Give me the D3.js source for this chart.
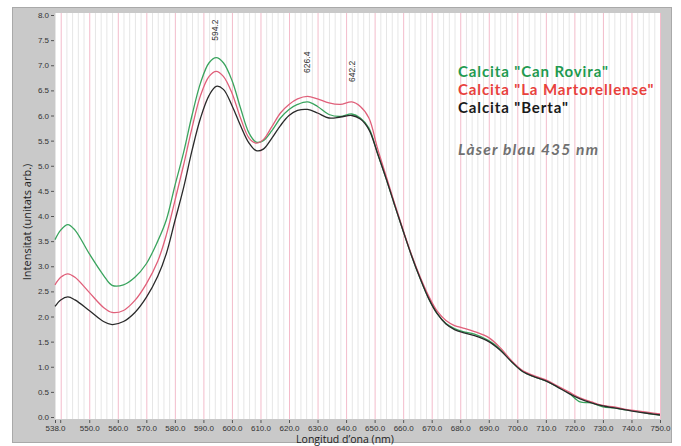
<!DOCTYPE html>
<html><head><meta charset="utf-8">
<script src="https://cdn.jsdelivr.net/npm/d3@7"></script>
<style>html,body{margin:0;padding:0;background:#fff;}svg{display:block;}</style>
</head><body>
<svg id="c" width="681" height="446"></svg>
<script>
const wavelengths = [538,540,542.5,545,550,555,558,562,566,570,574,577,580,583,586,589,592,594.5,597,600,603,606,608.5,611,614,617,620,623,626.5,630,634,638,642,645,648,651,654,657,660,663,666,669,672,675,678,681,685,690,694,698,702,706,710,714,718,722,726,730,734,738,742,746,750];
const canRovira = [3.53,3.72,3.83,3.72,3.25,2.82,2.62,2.63,2.78,3.05,3.5,3.92,4.6,5.25,6.0,6.65,7.05,7.15,7.05,6.7,6.15,5.65,5.47,5.5,5.7,5.95,6.12,6.22,6.27,6.18,6.02,5.98,6.03,5.95,5.75,5.25,4.75,4.22,3.7,3.2,2.75,2.35,2.05,1.86,1.76,1.7,1.65,1.52,1.35,1.1,0.9,0.8,0.72,0.6,0.48,0.3,0.28,0.2,0.18,0.14,0.11,0.07,0.04];
const laMartorellense = [2.63,2.78,2.85,2.78,2.48,2.18,2.08,2.12,2.32,2.65,3.1,3.62,4.3,5.0,5.75,6.4,6.78,6.88,6.78,6.45,5.95,5.55,5.45,5.52,5.78,6.05,6.22,6.33,6.38,6.33,6.25,6.22,6.27,6.18,5.95,5.35,4.8,4.25,3.72,3.22,2.78,2.4,2.1,1.92,1.82,1.77,1.7,1.58,1.38,1.12,0.92,0.82,0.74,0.62,0.5,0.38,0.3,0.23,0.2,0.15,0.12,0.09,0.06];
const berta = [2.2,2.33,2.39,2.33,2.12,1.9,1.84,1.9,2.08,2.38,2.8,3.25,3.9,4.55,5.3,5.95,6.4,6.58,6.52,6.2,5.8,5.45,5.3,5.33,5.55,5.8,6.0,6.1,6.12,6.05,5.95,5.97,6.0,5.93,5.72,5.25,4.75,4.22,3.7,3.2,2.75,2.35,2.05,1.85,1.74,1.68,1.62,1.5,1.33,1.1,0.9,0.8,0.72,0.6,0.47,0.36,0.28,0.22,0.18,0.14,0.1,0.07,0.04];
const xTicks = [538,550,560,570,580,590,600,610,620,630,640,650,660,670,680,690,700,710,720,730,740,750];
const yTicks = [0,0.5,1,1.5,2,2.5,3,3.5,4,4.5,5,5.5,6,6.5,7,7.5,8];
const peakLabels = [{nm:594.2,text:"594.2",y:7.7},{nm:626.4,text:"626.4",y:7.06},{nm:642.2,text:"642.2",y:6.88}];
const seriesNames = ['Calcita "Can Rovira"','Calcita "La Martorellense"','Calcita "Berta"'];
const seriesColors = ["#3aa45e","#e0607a","#2a2a2a"];
const legendColors = ["#1f9a50","#e8413c","#1a1a1a"];
const subtitle = "Làser blau 435 nm";

const svg = d3.select("#c");
const L=55, R=660, T=15, B=417;
const x = d3.scaleLinear().domain([538,750]).range([L,R]);
const y = d3.scaleLinear().domain([0,8]).range([B,T]);

// outer frame
svg.append("rect").attr("x",12.5).attr("y",7.5).attr("width",659).attr("height",435)
  .attr("fill","#c9c9c9").attr("stroke","#a9a9a9");
// plot area
svg.append("rect").attr("x",L).attr("y",T-2).attr("width",R-L+1).attr("height",B-T+4).attr("fill","#fff");

// grid
const minor = d3.range(538,751,2);
svg.append("g").selectAll("line").data(minor.filter(d=>d%10!==0)).join("line")
  .attr("x1",d=>x(d)+0.5).attr("x2",d=>x(d)+0.5).attr("y1",T-2).attr("y2",B+2)
  .attr("stroke","#e6e6e6").attr("stroke-width",1);
svg.append("g").selectAll("line").data(d3.range(540,751,10)).join("line")
  .attr("x1",d=>x(d)+0.5).attr("x2",d=>x(d)+0.5).attr("y1",T-2).attr("y2",B+2)
  .attr("stroke","#f3bccb").attr("stroke-width",1);

// axes
const xAxis = d3.axisBottom(x).tickValues(xTicks).tickFormat(d3.format(".1f")).tickSize(3).tickPadding(2);
const gx = svg.append("g").attr("transform",`translate(0,${B+3})`).call(xAxis);
gx.select(".domain").remove();
gx.selectAll("text").attr("font-family","Liberation Sans, Arial, sans-serif").attr("font-size",8).attr("fill","#333");
gx.selectAll("line").attr("stroke","#555");
svg.append("line").attr("x1",x(540)).attr("x2",x(540)).attr("y1",B+3).attr("y2",B+6).attr("stroke","#555");

const yAxis = d3.axisLeft(y).tickValues(yTicks).tickFormat(d3.format(".1f")).tickSize(3).tickPadding(2);
const gy = svg.append("g").attr("transform",`translate(${L-1},0)`).call(yAxis);
gy.select(".domain").remove();
gy.selectAll("text").attr("font-family","Liberation Sans, Arial, sans-serif").attr("font-size",8).attr("fill","#333");
gy.selectAll("line").attr("stroke","#555");

// axis titles
svg.append("text").attr("transform","translate(31,222) rotate(-90)").attr("text-anchor","middle")
  .attr("font-family","Open Sans, sans-serif").attr("font-size",11).attr("fill","#222").text("Intensitat (unitats arb.)");
svg.append("text").attr("x",345).attr("y",443).attr("text-anchor","middle")
  .attr("font-family","Open Sans, sans-serif").attr("font-size",10.5).attr("fill","#222").text("Longitud d’ona (nm)");

// lines
const line = d3.line().x(d=>x(d[0])).y(d=>y(d[1])).curve(d3.curveCatmullRom.alpha(0.5));
[canRovira,laMartorellense,berta].forEach((vals,i)=>{
  svg.append("path").datum(wavelengths.map((w,j)=>[w,vals[j]]))
    .attr("d",line).attr("fill","none").attr("stroke",seriesColors[i]).attr("stroke-width",1.3);
});

// peak labels
peakLabels.forEach(p=>{
  svg.append("text").attr("transform",`translate(${x(p.nm)+3},${y(p.y)}) rotate(-90)`)
    .attr("text-anchor","middle").attr("font-family","Liberation Sans, Arial, sans-serif")
    .attr("font-size",8.5).attr("fill","#333").text(p.text);
});

// legend
seriesNames.forEach((n,i)=>{
  svg.append("text").attr("x",458).attr("y",77+i*18).attr("font-family","Lato, sans-serif")
    .attr("font-weight","bold").attr("font-size",15).attr("letter-spacing",0.9)
    .attr("fill",legendColors[i]).text(n);
});
svg.append("text").attr("x",458).attr("y",155).attr("font-family","Lato, sans-serif")
  .attr("font-weight","bold").attr("font-style","italic").attr("font-size",15.5).attr("letter-spacing",1.2)
  .attr("fill","#707070").text(subtitle);
</script>
</body></html>
